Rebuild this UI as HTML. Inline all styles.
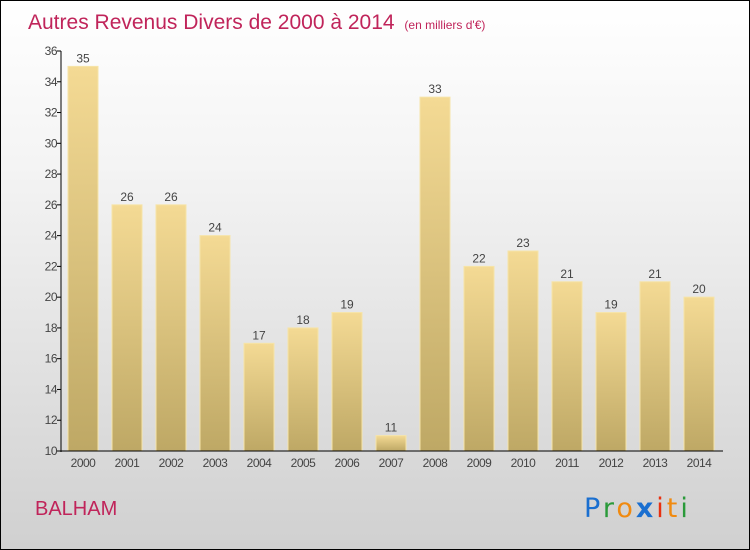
<!DOCTYPE html>
<html><head><meta charset="utf-8"><style>
body{margin:0}
#c{position:relative;width:748px;height:548px;border:1px solid #000;background:linear-gradient(#fff 0%,#f4f4f4 30%,#d0d0d0 100%);font-family:"Liberation Sans",sans-serif;overflow:hidden}
</style></head><body>
<div id="c">
<svg id="s" width="748" height="548" style="position:absolute;left:0;top:0">
<defs><linearGradient id="g" x1="0" y1="0" x2="0" y2="1"><stop offset="0" stop-color="#f4da94"/><stop offset="1" stop-color="#bea865"/></linearGradient></defs>
<text x="27" y="28" font-size="21" fill="#c0245a">Autres Revenus Divers de 2000 à 2014 <tspan font-size="12" dx="4">(en milliers d'€)</tspan></text>
<text x="34" y="514" font-size="20" fill="#c0245a">BALHAM</text>
<g id="plot"></g>
<text x="583" y="516" font-size="27" letter-spacing="3" font-family="DejaVu Sans,sans-serif"><tspan fill="#1a6fd0">P</tspan><tspan fill="#2a9a3a">r</tspan><tspan fill="#f08a10">o</tspan><tspan fill="#1a6fd0" font-weight="bold">x</tspan><tspan fill="#e83010">i</tspan><tspan fill="#f08a10">t</tspan><tspan fill="#2a9a3a">i</tspan></text>
</svg>
</div>
<script>
const years=["2000","2001","2002","2003","2004","2005","2006","2007","2008","2009","2010","2011","2012","2013","2014"];
const values=[35,26,26,24,17,18,19,11,33,22,23,21,19,21,20];
const ticks=[10,12,14,16,18,20,22,24,26,28,30,32,34,36];
const NS="http://www.w3.org/2000/svg";
const p=document.getElementById('plot');
const x0=60,step=44,yb=450,yt=50,vmin=10,vmax=36;
const y=v=>yb-(v-vmin)/(vmax-vmin)*(yb-yt);
function mk(t,a,txt){const e=document.createElementNS(NS,t);for(const k in a)e.setAttribute(k,a[k]);if(txt!=null)e.textContent=txt;p.appendChild(e);return e;}
ticks.forEach(t=>{
const l=mk('line',{x1:x0-4,x2:x0,y1:y(t),y2:y(t),stroke:'#000'});


const tx=mk('text',{x:x0-4,y:y(t)+4,'font-size':12,'text-anchor':'end',fill:'#444','letter-spacing':'-0.5'},t);


});
values.forEach((v,i)=>{
const cx=x0+step*i+22;
const r=mk('rect',{x:cx-15,y:y(v),width:30,height:yb-y(v),fill:'url(#g)',stroke:'#f6e4a8','stroke-width':1});


const lb=mk('text',{x:cx,y:y(v)-4,'font-size':12,'text-anchor':'middle',fill:'#444'},v);


const xl=mk('text',{x:cx,y:yb+16,'font-size':12,'text-anchor':'middle',fill:'#444','letter-spacing':'-0.5'},years[i]);


});
const ya=mk('line',{x1:x0,x2:x0,y1:yt,y2:yb+1,stroke:'#000'});


const xa=mk('line',{x1:x0,x2:x0+step*15+2,y1:yb,y2:yb,stroke:'#000'});


</script>
</body></html>
